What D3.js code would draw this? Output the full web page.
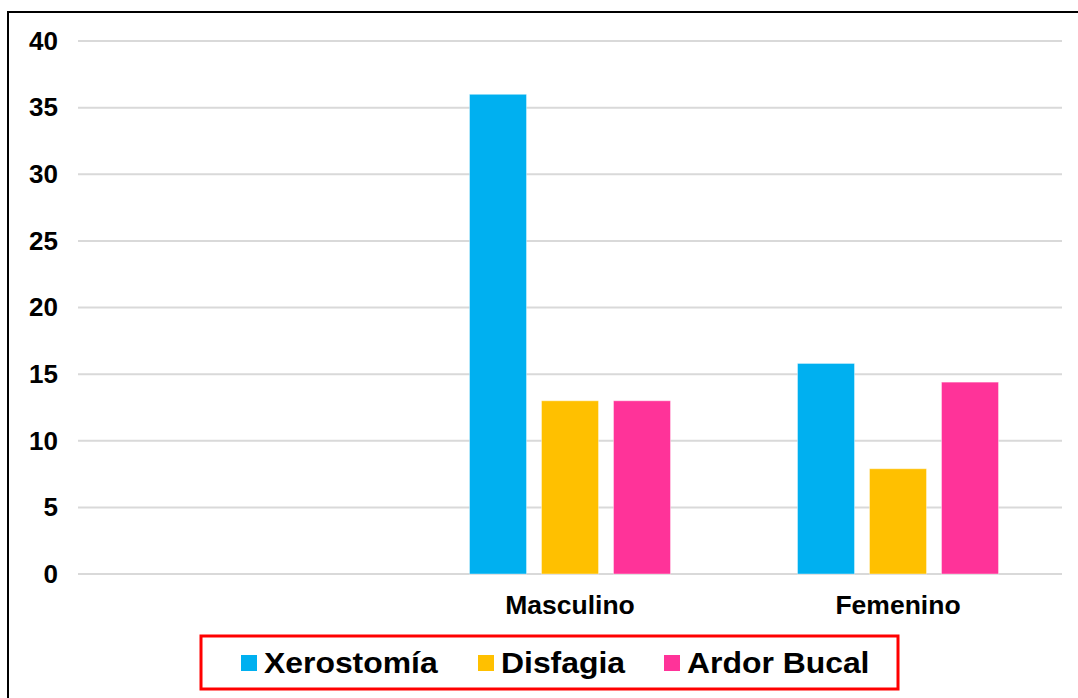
<!DOCTYPE html>
<html>
<head>
<meta charset="utf-8">
<script src="https://cdn.jsdelivr.net/npm/d3@7"></script>
<style>
  body { margin: 0; background: #fff; }
  text { font-family: "Liberation Sans", Arial, sans-serif; font-weight: bold; fill: #000; }
</style>
</head>
<body>
<div id="chart"></div>
<script>
// categories (first slot is empty in the original chart)
var categories = ["", "Masculino", "Femenino"];
var seriesNames = ["Xerostomía", "Disfagia", "Ardor Bucal"];
var xerostomia = [null, 36, 15.8];
var disfagia = [null, 13, 7.9];
var ardorBucal = [null, 13, 14.4];
var yTicks = [0, 5, 10, 15, 20, 25, 30, 35, 40];
var colors = ["#00b0f0", "#ffc000", "#ff3399"];

var svgWidth = 1078, svgHeight = 698;
var svg = d3.select("#chart").append("svg")
  .attr("width", svgWidth)
  .attr("height", svgHeight);

// outer frame
svg.append("rect")
  .attr("x", 8).attr("y", 12)
  .attr("width", 1100).attr("height", 720)
  .attr("fill", "none")
  .attr("stroke", "#000")
  .attr("stroke-width", 2);

var plotLeft = 78, plotRight = 1062, plotTop = 41, plotBottom = 574;

var x0 = d3.scaleBand().domain(categories).range([plotLeft, plotRight]).padding(0);
var bw = x0.bandwidth();
var x1 = d3.scaleBand().domain(seriesNames)
  .range([(bw - 201) / 2, (bw + 201) / 2])
  .paddingInner(15 / 72).paddingOuter(0);
var y = d3.scaleLinear().domain([0, 40]).range([plotBottom, plotTop]);

// gridlines
svg.append("g").selectAll("line").data(yTicks).enter().append("line")
  .attr("x1", plotLeft).attr("x2", plotRight)
  .attr("y1", d => y(d)).attr("y2", d => y(d))
  .attr("stroke", "#d9d9d9").attr("stroke-width", 2);

// y axis labels
var yAxis = svg.append("g")
  .attr("transform", `translate(${plotLeft}, 0)`)
  .call(d3.axisLeft(y).tickValues(yTicks).tickSize(0).tickPadding(20));
yAxis.select(".domain").remove();
yAxis.selectAll("text")
  .style("font-size", "26px")
  .style("font-family", "'Liberation Sans', Arial, sans-serif")
  .style("font-weight", "bold")
  .attr("fill", "#000");

// x axis labels
var xAxis = svg.append("g")
  .attr("transform", `translate(0, ${plotBottom})`)
  .call(d3.axisBottom(x0).tickSize(0).tickPadding(21));
xAxis.select(".domain").remove();
xAxis.selectAll("text")
  .style("font-size", "26.5px")
  .style("font-family", "'Liberation Sans', Arial, sans-serif")
  .style("font-weight", "bold")
  .attr("fill", "#000");

// bars
var allSeries = [xerostomia, disfagia, ardorBucal];
var rows = [];
categories.forEach(function(c, i) {
  seriesNames.forEach(function(s, j) {
    if (allSeries[j][i] != null) rows.push({cat: c, name: s, value: allSeries[j][i], color: colors[j]});
  });
});

svg.append("g").selectAll("rect").data(rows).enter().append("rect")
  .attr("x", d => x0(d.cat) + x1(d.name))
  .attr("y", d => y(d.value))
  .attr("width", x1.bandwidth())
  .attr("height", d => y(0) - y(d.value))
  .attr("fill", d => d.color)
  .attr("stroke", "#ffffff")
  .attr("stroke-opacity", 0.4)
  .attr("stroke-width", 1);

// legend
svg.append("rect")
  .attr("x", 201).attr("y", 636)
  .attr("width", 697).attr("height", 53)
  .attr("fill", "#fff")
  .attr("stroke", "#ff0000")
  .attr("stroke-width", 3);

var legendX = [241, 478, 664];
var legend = svg.append("g").selectAll("g").data(seriesNames).enter().append("g")
  .attr("transform", (d, i) => `translate(${legendX[i]}, 655)`);
legend.append("rect")
  .attr("width", 16).attr("height", 16)
  .attr("fill", (d, i) => colors[i]);
legend.append("text")
  .attr("transform", "translate(23, 8) scale(1.1, 1)")
  .attr("dy", "0.36em")
  .style("font-size", "29px")
  .text(d => d);
</script>
</body>
</html>
